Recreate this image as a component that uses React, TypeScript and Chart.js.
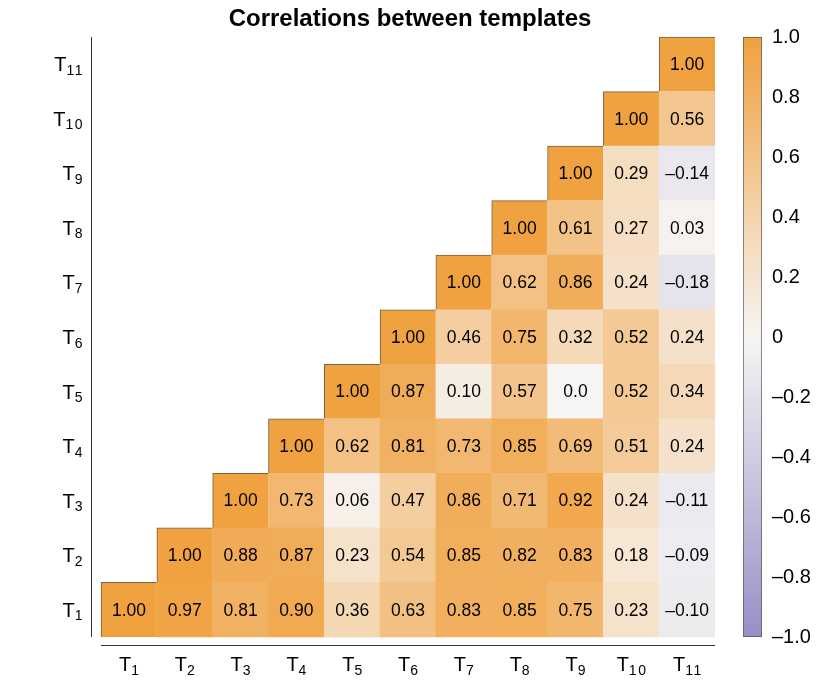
import React, { useEffect, useRef } from "react";
import { Chart, registerables } from "chart.js";

Chart.register(...registerables);

// ---------- data ----------
const title = "Correlations between templates";
const templateSubs = ["1", "2", "3", "4", "5", "6", "7", "8", "9", "10", "11"];

// Row T_r holds correlations with columns T_r ... T_11
const rowT1 = [1.0, 0.97, 0.81, 0.9, 0.36, 0.63, 0.83, 0.85, 0.75, 0.23, -0.1];
const rowT2 = [1.0, 0.88, 0.87, 0.23, 0.54, 0.85, 0.82, 0.83, 0.18, -0.09];
const rowT3 = [1.0, 0.73, 0.06, 0.47, 0.86, 0.71, 0.92, 0.24, -0.11];
const rowT4 = [1.0, 0.62, 0.81, 0.73, 0.85, 0.69, 0.51, 0.24];
const rowT5 = [1.0, 0.87, 0.1, 0.57, 0.0, 0.52, 0.34];
const rowT6 = [1.0, 0.46, 0.75, 0.32, 0.52, 0.24];
const rowT7 = [1.0, 0.62, 0.86, 0.24, -0.18];
const rowT8 = [1.0, 0.61, 0.27, 0.03];
const rowT9 = [1.0, 0.29, -0.14];
const rowT10 = [1.0, 0.56];
const rowT11 = [1.0];
const rows = [rowT1, rowT2, rowT3, rowT4, rowT5, rowT6, rowT7, rowT8, rowT9, rowT10, rowT11];

const colorbarMin = -1;
const colorbarMax = 1;
const colorbarStep = 0.2;

// ---------- styles ----------
const FONT = "'Liberation Sans', Arial, Helvetica, sans-serif";
const NEG = [152, 143, 198];
const MID = [247, 245, 244];
const POS = [240, 161, 64];
const OUTLINE = "rgba(90,70,45,0.85)";
const AXIS = "#333333";
const SUB_SPACING = 1.5;

function colorFor(v: number): string {
  const t = Math.min(1, Math.abs(v));
  const end = v >= 0 ? POS : NEG;
  const c = MID.map((m, i) => Math.round(m + (end[i] - m) * t));
  return `rgb(${c[0]},${c[1]},${c[2]})`;
}

function fmtCell(v: number): string {
  if (v === 0) return "0.0";
  return (v < 0 ? "\u2013" : "") + Math.abs(v).toFixed(2);
}

function fmtBar(v: number): string {
  if (Math.abs(v) < 1e-9) return "0";
  return (v < 0 ? "\u2013" : "") + Math.abs(v).toFixed(1);
}

const X_MIN = 0.32;
const Y_MIN = 0.335;
const N = templateSubs.length;

function drawTLabel(
  ctx: CanvasRenderingContext2D,
  sub: string,
  x: number,
  baseline: number,
  align: "right" | "center"
) {
  const c: any = ctx;
  ctx.font = `20px ${FONT}`;
  c.letterSpacing = "0px";
  const wT = ctx.measureText("T").width;
  ctx.font = `14px ${FONT}`;
  c.letterSpacing = `${SUB_SPACING}px`;
  const wS = ctx.measureText(sub).width - SUB_SPACING;
  const total = wT + wS;
  const x0 = align === "right" ? x - total : x - total / 2;
  ctx.textAlign = "left";
  ctx.textBaseline = "alphabetic";
  ctx.fillStyle = "#000";
  ctx.font = `20px ${FONT}`;
  c.letterSpacing = "0px";
  ctx.fillText("T", x0, baseline);
  ctx.font = `14px ${FONT}`;
  c.letterSpacing = `${SUB_SPACING}px`;
  ctx.fillText(sub, x0 + wT, baseline + 3.5);
  c.letterSpacing = "0px";
}

const heatPlugin = {
  id: "heatDecor",
  afterDraw(chart: any) {
    const ctx: CanvasRenderingContext2D = chart.ctx;
    const xs = chart.scales.x;
    const ys = chart.scales.y;
    ctx.save();

    // cell labels
    ctx.fillStyle = "#000";
    ctx.font = `17.5px ${FONT}`;
    ctx.textAlign = "center";
    ctx.textBaseline = "middle";
    chart.data.datasets.forEach((ds: any) => {
      ds.data.forEach((d: any) => {
        const px = xs.getPixelForValue(d.x);
        const py = ys.getPixelForValue((d.y[0] + d.y[1]) / 2);
        ctx.fillText(fmtCell(d.v), px, py + 1);
      });
    });

    // axis lines
    ctx.strokeStyle = AXIS;
    ctx.lineWidth = 1;
    const axX = Math.round(xs.getPixelForValue(X_MIN)) + 0.5;
    const axY = Math.round(ys.getPixelForValue(Y_MIN)) - 0.5;
    ctx.beginPath();
    ctx.moveTo(axX, ys.getPixelForValue(N + 0.5));
    ctx.lineTo(axX, ys.getPixelForValue(0.5));
    ctx.stroke();
    ctx.beginPath();
    ctx.moveTo(xs.getPixelForValue(0.5), axY);
    ctx.lineTo(xs.getPixelForValue(N + 0.5), axY);
    ctx.stroke();

    // tick labels
    templateSubs.forEach((s, i) => {
      drawTLabel(ctx, s, axX - 9, ys.getPixelForValue(i + 1) + 7, "right");
      drawTLabel(ctx, s, xs.getPixelForValue(i + 1), axY + 25.5, "center");
    });

    // title
    ctx.fillStyle = "#000";
    ctx.font = `bold 24px ${FONT}`;
    ctx.textAlign = "center";
    ctx.textBaseline = "alphabetic";
    const cx = (xs.getPixelForValue(0.5) + xs.getPixelForValue(N + 0.5)) / 2 + 2;
    ctx.fillText(title, cx, 26);

    ctx.restore();
  },
};

export default function App() {
  const heatRef = useRef<HTMLCanvasElement>(null);
  const barRef = useRef<HTMLCanvasElement>(null);

  useEffect(() => {
    const datasets = rows.map((vals, ri) => {
      const r = ri + 1;
      return {
        label: "T" + r,
        data: vals.map((v, k) => ({ x: r + k, y: [r - 0.5, r + 0.5], v })),
        backgroundColor: (c: any) => colorFor(c.raw ? c.raw.v : 0),
        borderColor: OUTLINE,
        borderWidth: (c: any) =>
          c.dataIndex === 0 ? { top: 1, left: 1, right: 0, bottom: 0 } : 0,
        borderSkipped: false,
        barPercentage: 1,
        categoryPercentage: 1,
        grouped: false,
      };
    });

    const heat = new Chart(heatRef.current!, {
      type: "bar",
      data: { datasets: datasets as any },
      options: {
        animation: false,
        responsive: false,
        layout: { padding: { left: 91, right: 116, top: 37, bottom: 35 } },
        scales: {
          x: { type: "linear", min: X_MIN, max: N + 0.5, offset: false, display: false },
          y: { type: "linear", min: Y_MIN, max: N + 0.5, offset: false, display: false },
        },
        plugins: {
          legend: { display: false },
          tooltip: { enabled: false },
          title: { display: false },
        },
      } as any,
      plugins: [heatPlugin],
    });

    const bar = new Chart(barRef.current!, {
      type: "bar",
      data: {
        labels: ["scale"],
        datasets: [
          {
            data: [[colorbarMin, colorbarMax]] as any,
            backgroundColor: (c: any) => {
              const ch = c.chart;
              if (!ch.chartArea) return "transparent";
              const ys = ch.scales.y;
              const g = ch.ctx.createLinearGradient(
                0,
                ys.getPixelForValue(colorbarMin),
                0,
                ys.getPixelForValue(colorbarMax)
              );
              g.addColorStop(0, colorFor(colorbarMin));
              g.addColorStop(0.5, colorFor(0));
              g.addColorStop(1, colorFor(colorbarMax));
              return g;
            },
            borderColor: "#555555",
            borderWidth: 1,
            borderSkipped: false,
            barPercentage: 1,
            categoryPercentage: 1,
          },
        ],
      },
      options: {
        animation: false,
        responsive: false,
        layout: { padding: { left: 43, right: 0, top: 37, bottom: 44 } },
        scales: {
          x: { display: false },
          y: {
            position: "right",
            min: colorbarMin,
            max: colorbarMax,
            ticks: {
              stepSize: colorbarStep,
              callback: (v: any) => fmtBar(Number(v)),
              font: { family: FONT, size: 20 },
              color: "#000",
              padding: 10,
            },
            grid: { display: false, drawTicks: false },
            border: { display: false },
            afterFit: (s: any) => {
              s.width = 69;
            },
          },
        },
        plugins: {
          legend: { display: false },
          tooltip: { enabled: false },
        },
      } as any,
    });

    return () => {
      heat.destroy();
      bar.destroy();
    };
  }, []);

  return (
    <div style={{ position: "absolute", left: 0, top: 0, width: 831, height: 681, background: "#fff" }}>
      <canvas ref={heatRef} width={831} height={681} style={{ position: "absolute", left: 0, top: 0 }} />
      <canvas ref={barRef} width={131} height={681} style={{ position: "absolute", left: 700, top: 0 }} />
    </div>
  );
}
